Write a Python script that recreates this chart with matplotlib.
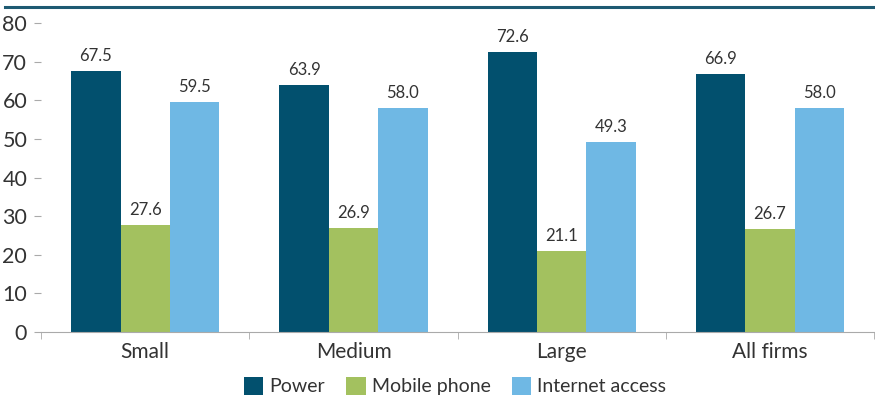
import numpy as np
import matplotlib.pyplot as plt
from matplotlib.lines import Line2D

plt.rcParams['font.family'] = ['Lato', 'DejaVu Sans']

categories = ['Small', 'Medium', 'Large', 'All firms']
series = ['Power', 'Mobile phone', 'Internet access']
power = [67.5, 63.9, 72.6, 66.9]
mobile = [27.6, 26.9, 21.1, 26.7]
internet = [59.5, 58.0, 49.3, 58.0]
colors = ['#02506e', '#a3c15f', '#6fb8e4']

fig = plt.figure(figsize=(8.75, 3.99), dpi=100)
ax = fig.add_axes([0.047, 0.168, 0.952, 0.774])

x = np.arange(len(categories))
w = 0.237
txt = '#333333'
for i, (vals, c, name) in enumerate(zip([power, mobile, internet], colors, series)):
    pos = x + (i - 1) * w
    ax.bar(pos, vals, width=w, color=c, label=name)
    for p, v in zip(pos, vals):
        ax.text(p, v + 1.8, f'{v:.1f}', ha='center', va='bottom', fontsize=12, color=txt)

ax.set_xlim(-0.5, len(categories) - 0.5)
ax.set_ylim(0, 80)
ax.set_yticks(range(0, 81, 10))
ax.set_xticks(x)
ax.set_xticklabels(categories, fontsize=15, color=txt)
ax.set_xticks(np.arange(-0.5, len(categories), 1), minor=True)
ax.tick_params(axis='x', which='major', length=0, pad=7)
ax.tick_params(axis='x', which='minor', length=5, color='#aaaaaa')
ax.tick_params(axis='y', length=5, color='#aaaaaa', labelsize=15.5, labelcolor=txt, pad=5)

for s in ['top', 'right', 'left']:
    ax.spines[s].set_visible(False)
ax.spines['bottom'].set_color('#aaaaaa')

fig.add_artist(Line2D([0.006, 1.0], [0.982, 0.982], transform=fig.transFigure,
                      color='#1e5a72', lw=2.2))

fig.legend(loc='lower center', bbox_to_anchor=(0.52, -0.035), ncol=3, frameon=False,
           fontsize=14, handlelength=1.0, handleheight=1.0, handletextpad=0.3,
           columnspacing=1.1, labelcolor=txt)

fig.savefig('out.png', dpi=100)
